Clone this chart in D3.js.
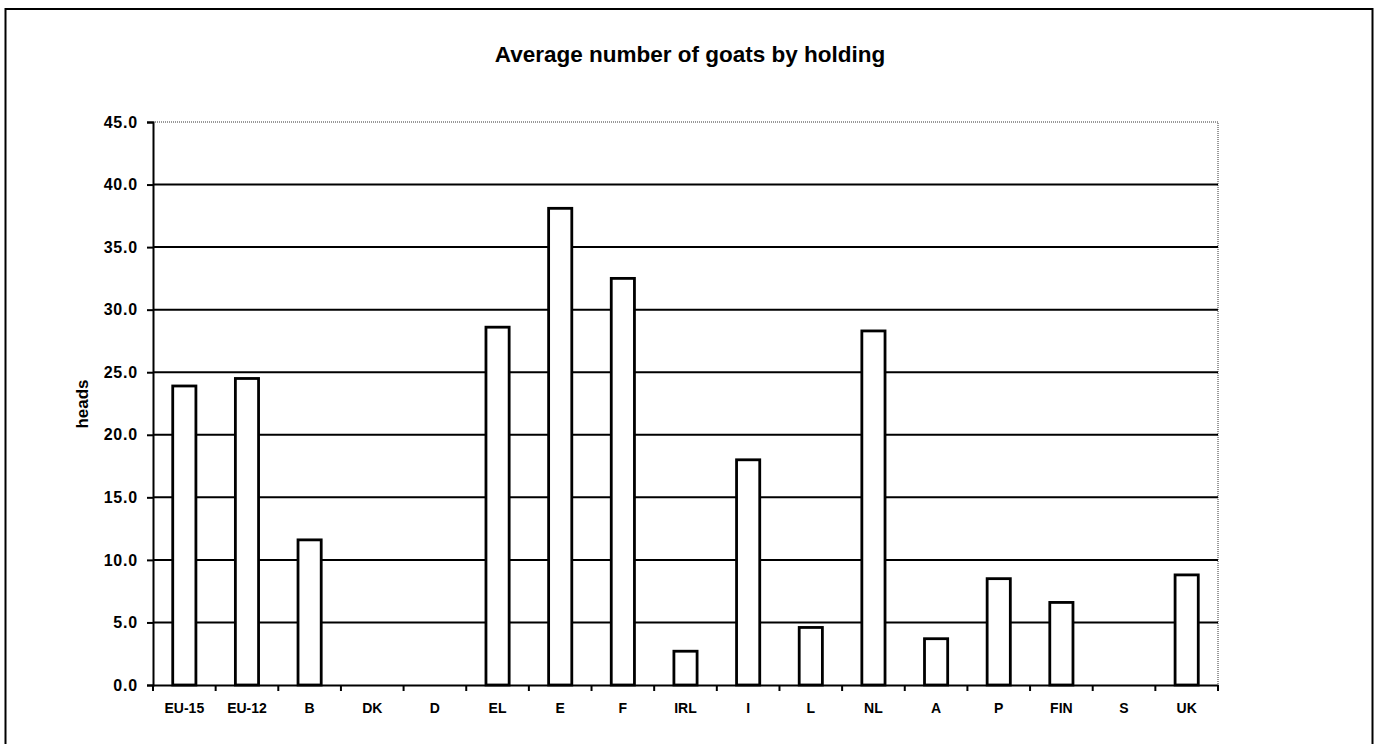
<!DOCTYPE html>
<html>
<head>
<meta charset="utf-8">
<script src="https://cdn.jsdelivr.net/npm/d3@7"></script>
<style>
  html, body { margin: 0; padding: 0; background: #fff; }
  svg { display: block; }
  text { font-family: Arial, "Liberation Sans", sans-serif; fill: #000; }
</style>
</head>
<body>
<div id="chart"></div>
<script>
// Average number of goats by holding - bar chart
var categories = ["EU-15", "EU-12", "B", "DK", "D", "EL", "E", "F", "IRL", "I", "L", "NL", "A", "P", "FIN", "S", "UK"];
var heads = [23.9, 24.5, 11.6, 0, 0, 28.6, 38.1, 32.5, 2.7, 18.0, 4.6, 28.3, 3.7, 8.5, 6.6, 0, 8.8];
var yTicks = [0, 5, 10, 15, 20, 25, 30, 35, 40, 45];

var W = 1382, H = 744;
var plot = {left: 153, right: 1218, top: 122, bottom: 685};

var svg = d3.select("#chart").append("svg")
	.attr("width", W)
	.attr("height", H);

// outer frame (runs off the bottom of the page)
svg.append("rect")
	.attr("x", 5.5).attr("y", 9)
	.attr("width", 1367).attr("height", 760)
	.attr("fill", "none")
	.attr("stroke", "#000")
	.attr("stroke-width", 2);

var x = d3.scaleBand()
	.domain(categories)
	.range([plot.left, plot.right])
	.paddingInner(0).paddingOuter(0);

var y = d3.scaleLinear()
	.domain([0, 45])
	.range([plot.bottom, plot.top]);

// dotted top + right edge of plot area
svg.append("path")
	.attr("d", "M" + plot.left + "," + plot.top + "H" + plot.right + "V" + plot.bottom)
	.attr("fill", "none")
	.attr("stroke", "#333")
	.attr("stroke-width", 1)
	.attr("stroke-dasharray", "1,1");

// gridlines
svg.append("g").selectAll("line")
	.data(yTicks.filter(function(d) { return d > 0 && d < 45; }))
	.enter().append("line")
	.attr("x1", plot.left).attr("x2", plot.right)
	.attr("y1", function(d) { return y(d); })
	.attr("y2", function(d) { return y(d); })
	.attr("stroke", "#000")
	.attr("stroke-width", 2);

// bars (zero values draw nothing)
var bw = x.bandwidth() * 0.37;
svg.append("g").selectAll("rect")
	.data(categories)
	.enter().append("rect")
	.filter(function(c, i) { return heads[i] > 0; })
	.attr("x", function(c) { return x(c) + x.bandwidth() / 2 - bw / 2; })
	.attr("y", function(c, i) { return y(heads[categories.indexOf(c)]); })
	.attr("width", bw)
	.attr("height", function(c) { return y(0) - y(heads[categories.indexOf(c)]); })
	.attr("fill", "#fff")
	.attr("stroke", "#000")
	.attr("stroke-width", 2.8);

// y axis
var yAxis = svg.append("g")
	.attr("transform", "translate(" + plot.left + ",0)")
	.call(d3.axisLeft(y).tickValues(yTicks).tickFormat(d3.format(".1f")).tickSize(6).tickPadding(9));
yAxis.select(".domain").attr("stroke-width", 2);
yAxis.selectAll(".tick line").attr("stroke-width", 2);
yAxis.selectAll("text")
	.style("font-size", "16px")
	.style("font-weight", "bold")
	.style("letter-spacing", "0.8px");

// x axis - ticks sit between categories
var xAxis = svg.append("g")
	.attr("transform", "translate(0," + plot.bottom + ")")
	.call(d3.axisBottom(x).tickSize(0).tickPadding(18));
xAxis.select(".domain").attr("stroke-width", 2);
xAxis.selectAll("text")
	.style("font-size", "14px")
	.style("font-weight", "bold");

var bounds = categories.map(function(c) { return x(c); }).concat([plot.right]);
xAxis.selectAll(".bound")
	.data(bounds)
	.enter().append("line")
	.attr("class", "bound")
	.attr("x1", function(d) { return d; }).attr("x2", function(d) { return d; })
	.attr("y1", 0).attr("y2", 6)
	.attr("stroke", "#000")
	.attr("stroke-width", 2);

// title
svg.append("text")
	.attr("x", 690).attr("y", 62)
	.attr("text-anchor", "middle")
	.style("font-size", "22.5px")
	.style("font-weight", "bold")
	.text("Average number of goats by holding");

// y label
svg.append("text")
	.attr("transform", "translate(88,404) rotate(-90)")
	.attr("text-anchor", "middle")
	.style("font-size", "17px")
	.style("font-weight", "bold")
	.text("heads");
</script>
</body>
</html>
